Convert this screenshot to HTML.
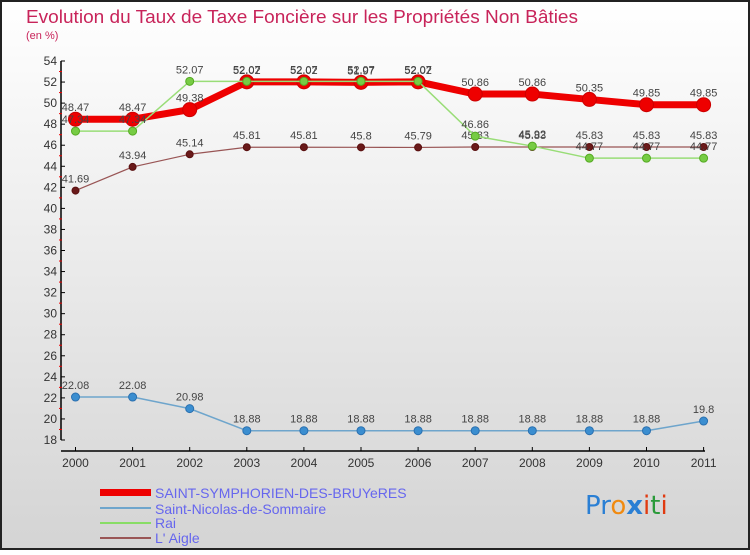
<!DOCTYPE html>
<html><head><meta charset="utf-8"><style>
body{margin:0;width:750px;height:550px;overflow:hidden;font-family:"Liberation Sans",sans-serif}
</style></head><body>
<svg id="chart" width="750" height="550" xmlns="http://www.w3.org/2000/svg" font-family="Liberation Sans, sans-serif">
<defs><linearGradient id="bg" x1="0" y1="0" x2="0" y2="1"><stop offset="0" stop-color="#ffffff"/><stop offset="1" stop-color="#d4d4d4"/></linearGradient></defs>
<rect x="1" y="1" width="748" height="548" fill="url(#bg)" stroke="#222" stroke-width="2"/>
<text x="26" y="23" font-size="18" fill="#c8245a" textLength="552" lengthAdjust="spacingAndGlyphs">Evolution du Taux de Taxe Foncière sur les Propriétés Non Bâties</text>
<text x="26" y="39" font-size="11" fill="#c8245a">(en %)</text>
<g id="axes"></g><g id="series"></g>
<g>
<rect x="100" y="489" width="51" height="7" fill="#ee0000"/>
<text x="155" y="498" font-size="14" fill="#6666ee">SAINT-SYMPHORIEN-DES-BRUYeRES</text>
<rect x="100" y="507" width="51" height="2" fill="#6ea5cc"/>
<text x="155" y="514" font-size="14" fill="#6666ee">Saint-Nicolas-de-Sommaire</text>
<rect x="100" y="522" width="51" height="2" fill="#88dd66"/>
<text x="155" y="528" font-size="14" fill="#6666ee">Rai</text>
<rect x="100" y="537" width="51" height="2" fill="#995555"/>
<text x="155" y="543" font-size="14" fill="#6666ee">L' Aigle</text>
</g>
<text x="585" y="514" font-size="26" font-family="DejaVu Sans, sans-serif"><tspan fill="#2a7fd4">Pr</tspan><tspan fill="#f08a10">o</tspan><tspan fill="#2a7fd4" font-weight="bold">x</tspan><tspan fill="#e03a10">i</tspan><tspan fill="#2a9a3a">t</tspan><tspan fill="#e03a10">i</tspan></text>
</svg>
<script>
const years=["2000","2001","2002","2003","2004","2005","2006","2007","2008","2009","2010","2011"];
const yTicks=[18,20,22,24,26,28,30,32,34,36,38,40,42,44,46,48,50,52,54];
const stSymph=[48.47,48.47,49.38,52.02,52.02,51.97,52.02,50.86,50.86,50.35,49.85,49.85];
const stNicolas=[22.08,22.08,20.98,18.88,18.88,18.88,18.88,18.88,18.88,18.88,18.88,19.8];
const rai=[47.34,47.34,52.07,52.07,52.07,52.07,52.07,46.86,45.92,44.77,44.77,44.77];
const aigle=[41.69,43.94,45.14,45.81,45.81,45.8,45.79,45.83,45.83,45.83,45.83,45.83];
const NS="http://www.w3.org/2000/svg";
const X=i=>75.5+i*57.1, Y=v=>440-(v-18)*(379/36);
function mk(tag,attrs,parent,txt){const e=document.createElementNS(NS,tag);for(const k in attrs)e.setAttribute(k,attrs[k]);if(txt!==undefined)e.textContent=txt;parent.appendChild(e);return e;}
const ax=document.getElementById('axes');
let e=mk('line',{x1:61,y1:Y(54),x2:61,y2:440,stroke:'#000','stroke-width':1.5},ax);


e=mk('line',{x1:61,y1:451,x2:705,y2:451,stroke:'#000','stroke-width':1.5},ax);


yTicks.forEach((t,i)=>{
 mk('line',{x1:61,y1:Y(t),x2:65,y2:Y(t),stroke:'#000'},ax);
 if(i<yTicks.length-1)mk('line',{x1:59,y1:Y(t+1),x2:62,y2:Y(t+1),stroke:'#e00'},ax);
 const l=mk('text',{x:57,y:Y(t)+4,'font-size':12,'text-anchor':'end',fill:'#333'},ax,t);
 
 
});
years.forEach((y,i)=>{
 mk('line',{x1:X(i),y1:447,x2:X(i),y2:451,stroke:'#000'},ax);
 const l=mk('text',{x:X(i),y:467,'font-size':12,'text-anchor':'middle',fill:'#333'},ax,y);
 
 
});
const sg=document.getElementById('series');
function series(vals,name,color,w,r,fill,stroke){
 const g=mk('g',{},sg);
 
 
 const p=mk('polyline',{points:vals.map((v,i)=>X(i)+','+Y(v)).join(' '),fill:'none',stroke:color,'stroke-width':w,'stroke-linejoin':'round'},g);
 
 
 vals.forEach((v,i)=>{
  const c=mk('circle',{cx:X(i),cy:Y(v),r:r,fill:fill,stroke:stroke,'stroke-width':1},g);
  
  
  const t=mk('text',{x:X(i),y:Y(v)-8,'font-size':11,'text-anchor':'middle',fill:'#444'},g,String(v));
  
  
 });
}
series(aigle,'l-aigle','#995555',1.2,3.5,'#6a1a1a','#5a1010');
series(stSymph,'saint-symphorien','#ee0000',7,7,'#ee0000','#cc0000');
series(rai,'rai','#99dd77',1.5,4,'#77cc44','#55aa22');
series(stNicolas,'saint-nicolas','#6ea5cc',1.5,4,'#3b8ed0','#2a70b0');
</script>
</body></html>
